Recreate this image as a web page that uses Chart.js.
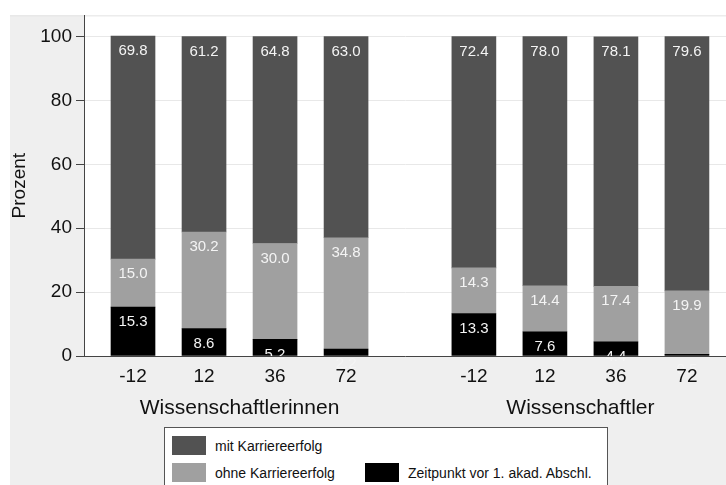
<!DOCTYPE html>
<html>
<head>
<meta charset="utf-8">
<script src="https://cdn.jsdelivr.net/npm/chart.js@4.4.1/dist/chart.umd.min.js"></script>
<style>
  html, body { margin: 0; padding: 0; background: #fff; overflow: hidden; }
  #wrap { position: relative; width: 726px; height: 485px; }
  #legend {
    position: absolute; left: 164px; top: 427px; width: 444px; height: 80px;
    background: #fff; border: 1px solid #555; box-sizing: border-box;
    font-family: 'Liberation Sans', Arial, sans-serif; font-size: 14px; color: #111;
  }
  .item { position: absolute; display: flex; align-items: center; }
  .swatch { width: 34px; height: 19px; margin-right: 9px; }
</style>
</head>
<body>
<div id="wrap">
  <canvas id="chart" width="726" height="485"></canvas>
  <div id="legend"></div>
</div>
<script>
// Data
const groups = ['Wissenschaftlerinnen', 'Wissenschaftler'];
const tickLabels = ['-12', '12', '36', '72', '-12', '12', '36', '72'];
const vorAbschluss = [15.3, 8.6, 5.2, 2.2, 13.3, 7.6, 4.4, 0.5];
const ohneErfolg = [15.0, 30.2, 30.0, 34.8, 14.3, 14.4, 17.4, 19.9];
const mitErfolg = [69.8, 61.2, 64.8, 63.0, 72.4, 78.0, 78.1, 79.6];
const yTicks = [0, 20, 40, 60, 80, 100];

// bar positions on the x axis: 4 bars per group, with a wider gap between groups
const groupGap = 1.8;
const xPos = tickLabels.map((_, i) => (i % 4) + Math.floor(i / 4) * (3 + groupGap));

const font = "'Liberation Sans', Arial, sans-serif";

function toPoints(values) {
  return values.map((v, i) => ({ x: xPos[i], y: v }));
}

// Background: gray graph region, white plot region
const bgPlugin = {
  id: 'bg',
  beforeDraw(chart) {
    const { ctx, chartArea: a } = chart;
    ctx.save();
    ctx.fillStyle = '#fff';
    ctx.fillRect(0, 0, chart.width, chart.height);
    ctx.fillStyle = '#efefef';
    ctx.fillRect(10, 15, chart.width - 10, chart.height - 15);
    ctx.fillStyle = '#fff';
    ctx.fillRect(a.left, a.top, a.right - a.left, a.bottom - a.top);
    ctx.strokeStyle = '#e4e4e4';
    ctx.lineWidth = 1;
    ctx.beginPath();
    ctx.moveTo(10, a.top + 0.5);
    ctx.lineTo(chart.width, a.top + 0.5);
    ctx.stroke();
    ctx.restore();
  }
};

// Value labels near the top of each segment, and group titles under the axis
const labelPlugin = {
  id: 'labels',
  afterDatasetsDraw(chart) {
    const ctx = chart.ctx;
    ctx.save();
    ctx.font = '15px ' + font;
    ctx.fillStyle = '#f4f4f4';
    ctx.textAlign = 'center';
    ctx.textBaseline = 'middle';
    chart.data.datasets.forEach((ds, di) => {
      chart.getDatasetMeta(di).data.forEach((bar, i) => {
        ctx.fillText(ds.data[i].y.toFixed(1), bar.x, bar.y + 15);
      });
    });

    const xs = chart.scales.x;
    ctx.font = '21px ' + font;
    ctx.fillStyle = '#111';
    ctx.textBaseline = 'alphabetic';
    groups.forEach((g, gi) => {
      const first = xs.getPixelForValue(xPos[gi * 4]);
      const last = xs.getPixelForValue(xPos[gi * 4 + 3]);
      ctx.fillText(g, (first + last) / 2, 414);
    });
    ctx.restore();
  }
};

const chart = new Chart(document.getElementById('chart'), {
  type: 'bar',
  data: {
    datasets: [
      { label: 'Zeitpunkt vor 1. akad. Abschl.', data: toPoints(vorAbschluss), backgroundColor: '#000000' },
      { label: 'ohne Karriereerfolg', data: toPoints(ohneErfolg), backgroundColor: '#a0a0a0' },
      { label: 'mit Karriereerfolg', data: toPoints(mitErfolg), backgroundColor: '#525252' }
    ]
  },
  options: {
    responsive: false,
    animation: false,
    devicePixelRatio: 1,
    layout: { padding: { top: 15, left: 0, right: 0, bottom: 0 } },
    datasets: { bar: { barThickness: 44, borderWidth: 0 } },
    plugins: {
      legend: { display: false },
      tooltip: { enabled: false }
    },
    scales: {
      x: {
        type: 'linear',
        stacked: true,
        offset: false,
        min: -0.69,
        max: 8.35,
        grid: { display: false },
        border: { display: true, color: '#444', width: 1, z: 1 },
        afterBuildTicks(axis) {
          axis.ticks = xPos.map(v => ({ value: v }));
        },
        afterFit(axis) { axis.height = 129; },
        ticks: {
          z: 1,
          autoSkip: false,
          maxRotation: 0,
          padding: 1,
          color: '#111',
          font: { family: font, size: 19 },
          callback: (value, index) => tickLabels[index]
        }
      },
      y: {
        stacked: true,
        min: 0,
        max: 106.6,
        afterBuildTicks(axis) {
          axis.ticks = yTicks.map(v => ({ value: v }));
        },
        afterFit(axis) { axis.width = 84; },
        grid: { color: '#e8e8e8', lineWidth: 1, tickColor: '#444', tickLength: 8, drawTicks: true },
        border: { display: true, color: '#444', width: 1 },
        ticks: {
          padding: 4,
          color: '#111',
          font: { family: font, size: 19 }
        },
        title: {
          display: true,
          text: 'Prozent',
          color: '#111',
          font: { family: font, size: 19 },
          padding: { top: 8, bottom: 0 }
        }
      }
    }
  },
  plugins: [bgPlugin, labelPlugin]
});

// Legend (Stata-like box under the chart)
const legendSlots = [
  { ds: 2, left: 7, top: 8 },
  { ds: 1, left: 7, top: 35 },
  { ds: 0, left: 200, top: 35 }
];
const legendEl = document.getElementById('legend');
legendSlots.forEach(slot => {
  const ds = chart.data.datasets[slot.ds];
  const item = document.createElement('div');
  item.className = 'item';
  item.style.left = slot.left + 'px';
  item.style.top = slot.top + 'px';
  const sw = document.createElement('span');
  sw.className = 'swatch';
  sw.style.background = ds.backgroundColor;
  const txt = document.createElement('span');
  txt.textContent = ds.label;
  item.appendChild(sw);
  item.appendChild(txt);
  legendEl.appendChild(item);
});
</script>
</body>
</html>
